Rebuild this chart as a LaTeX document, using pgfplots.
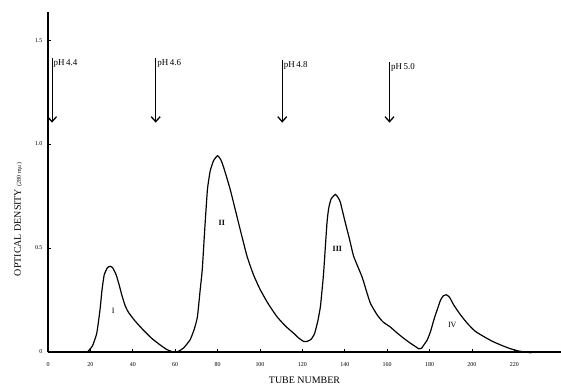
\documentclass[border=0pt]{standalone}
\usepackage{fontspec}
\setmainfont{Liberation Serif}
\usepackage{pgfplots}
\pgfplotsset{compat=1.18}
\usetikzlibrary{arrows.meta}

\pgfplotstableread{
x y
0 0
18 0
19 0.005
21 0.03
23 0.09
24.5 0.2
25.5 0.3
26.5 0.37
28 0.405
29.3 0.412
30.5 0.405
32.2 0.37
33.5 0.325
34.8 0.275
36.3 0.225
38 0.19
41 0.15
45 0.105
49 0.065
52.9 0.034
56 0.012
58.5 0.002
60 0
61.5 0.003
64 0.02
67 0.058
69 0.11
70.5 0.17
71.8 0.3
72.8 0.4
74 0.6
75.2 0.78
76.5 0.87
78.1 0.92
80 0.944
81.5 0.925
82.8 0.89
86 0.78
89.9 0.62
93.9 0.46
97 0.37
100.1 0.30
104 0.23
108 0.17
112 0.125
115.9 0.09
118.5 0.065
120.8 0.05
122.5 0.052
124.2 0.062
125.8 0.09
127.3 0.15
128.5 0.218
129.3 0.3
130 0.378
131.6 0.62
132.4 0.69
133.5 0.735
135.6 0.758
137 0.74
137.9 0.72
140.3 0.62
142.3 0.54
144.2 0.46
148.2 0.36
150 0.3
152.1 0.234
155.3 0.178
158 0.145
161.5 0.12
164.5 0.093
167.8 0.066
171 0.042
173.5 0.025
175 0.015
176.2 0.018
177.3 0.034
178.9 0.058
180.5 0.1
182 0.154
183.5 0.2
185.2 0.25
186.5 0.27
188 0.275
189.5 0.262
191.4 0.226
194.5 0.18
197.8 0.138
201.5 0.1
205.6 0.074
209.5 0.052
213.5 0.034
217.5 0.018
221.4 0.006
225 0.0
228 -0.004
}\curve

\begin{document}
\begin{tikzpicture}
\begin{axis}[
  scale only axis, width=513bp, height=340bp,
  at={(0,0)}, anchor=south west,
  xmin=0, xmax=242, ymin=0, ymax=1.635,
  axis lines=left, axis line style={-, line width=1.6pt},
  xtick={0,20,...,220}, ytick={0,0.5,1.0,1.5},
  yticklabels={0,0.5,1.0,1.5},
  tick align=inside, major tick length=3pt,
  tick style={line width=0.8pt, black},
  ticklabel style={font=\fontsize{6}{7}\selectfont},
  /pgf/number format/assume math mode=true,
  xticklabel style={yshift=-7pt},
  yticklabel style={xshift=-2pt},
  xlabel={TUBE NUMBER},
  xlabel style={at={(rel axis cs:0.5,0)}, anchor=center, yshift=-28bp, font=\fontsize{10}{12}\selectfont},
  ylabel={OPTICAL DENSITY {\fontsize{6}{7}\selectfont (280 m$\mu$)}},
  ylabel style={at={(rel axis cs:-0.058,0.39)}, anchor=center, font=\fontsize{10}{12}\selectfont},
  clip=false,
]
\addplot[black, line width=1.2pt, smooth, tension=0.3] table[x=x,y=y] {\curve};

\foreach \px/\top/\lab in {1.9/1.413/4.4, 50.8/1.413/4.6, 110.5/1.404/4.8, 161.1/1.394/5.0}{
  \edef\temp{\noexpand\draw[-{Straight Barb[length=5pt,width=9pt,line width=1.3pt]}, line width=0.7pt] (axis cs:\px,\top) -- (axis cs:\px,1.103);
  \noexpand\node[anchor=north west, inner sep=0pt, xshift=1.5pt, yshift=-1pt, font=\noexpand\fontsize{9}{10}\noexpand\selectfont] at (axis cs:\px,\top) {pH\,\lab};}
  \temp
}

\node[font=\fontsize{8}{9}\selectfont] at (axis cs:30.7,0.20) {I};
\node[font=\bfseries\fontsize{8}{9}\selectfont] at (axis cs:82,0.62) {II};
\node[font=\bfseries\fontsize{8}{9}\selectfont] at (axis cs:136.5,0.495) {III};
\node[font=\fontsize{8}{9}\selectfont] at (axis cs:190.7,0.13) {IV};
\end{axis}
\pgfresetboundingbox
\path[use as bounding box] (-48bp,-36bp) rectangle (513bp,352bp);
\end{tikzpicture}
\end{document}
